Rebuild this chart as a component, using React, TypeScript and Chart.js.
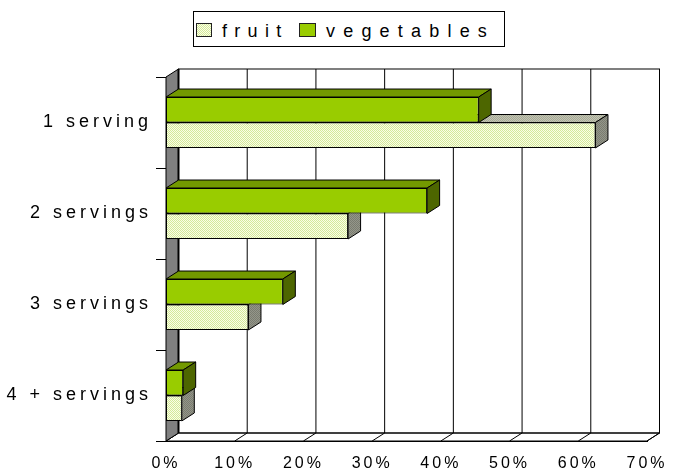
import React, { useEffect, useRef } from 'react';
import { Chart, registerables } from 'chart.js';

Chart.register(...registerables);

const categories = ['1 serving', '2 servings', '3 servings', '4 + servings'];
const fruitValues = [62.5, 26.5, 12, 2.3];
const vegetableValues = [45.5, 38, 17, 2.5];
const xTickValues = [0, 10, 20, 30, 40, 50, 60, 70];
const seriesNames = ['fruit', 'vegetables'];

const FONT = '"Liberation Sans", Arial, Helvetica, sans-serif';
const DX = 12.5;
const DY = 8;

function makePattern(a: string, b: string): CanvasPattern | string {
  const c = document.createElement('canvas');
  c.width = 2;
  c.height = 2;
  const g = c.getContext('2d');
  if (!g) return a;
  g.fillStyle = a;
  g.fillRect(0, 0, 2, 2);
  g.fillStyle = b;
  g.fillRect(0, 0, 1, 1);
  g.fillRect(1, 1, 1, 1);
  const p = g.createPattern(c, 'repeat');
  return p || a;
}

export default function App() {
  const ref = useRef<HTMLCanvasElement | null>(null);

  useEffect(() => {
    const canvas = ref.current;
    if (!canvas) return;
    const fruitFront = makePattern('#fbfde6', '#d3e99a');
    const fruitTop = makePattern('#c4c6b4', '#a6a996');
    const fruitSide = makePattern('#94968a', '#7a7c70');
    const faces: Record<number, { top: any; side: any }> = {
      0: { top: '#739900', side: '#4d6600' },
      1: { top: fruitTop, side: fruitSide },
    };

    const depthPlugin = {
      id: 'depth3d',
      beforeDraw(chart: any) {
        // spacing for the category labels (drawn before the bars)
        chart.ctx.letterSpacing = '4px';
      },
      beforeDatasetsDraw(chart: any) {
        const ctx = chart.ctx as CanvasRenderingContext2D;
        const xs = chart.scales.x;
        const { left: L, right: R, top: T, bottom: B } = chart.chartArea;
        ctx.save();
        ctx.lineWidth = 1;
        ctx.strokeStyle = '#000';
        ctx.fillStyle = '#fff';
        ctx.fillRect(L + DX, T - DY, R - L, B - T);
        ctx.strokeRect(L + DX, T - DY, R - L, B - T);
        xs.ticks.forEach((t: any) => {
          const px = xs.getPixelForValue(t.value);
          ctx.beginPath();
          ctx.moveTo(px + DX, T - DY);
          ctx.lineTo(px + DX, B - DY);
          ctx.moveTo(px, B);
          ctx.lineTo(px + DX, B - DY);
          ctx.stroke();
        });
        ctx.beginPath();
        ctx.moveTo(L, B);
        ctx.lineTo(L + DX, B - DY);
        ctx.lineTo(R + DX, B - DY);
        ctx.lineTo(R, B);
        ctx.closePath();
        ctx.stroke();
        ctx.beginPath();
        ctx.moveTo(L, T);
        ctx.lineTo(L + DX, T - DY);
        ctx.lineTo(L + DX, B - DY);
        ctx.lineTo(L, B);
        ctx.closePath();
        ctx.fillStyle = '#808080';
        ctx.fill();
        ctx.stroke();
        ctx.lineWidth = 2;
        ctx.beginPath();
        ctx.moveTo(L + DX, T - DY);
        ctx.lineTo(L + DX, B - DY);
        ctx.stroke();
        ctx.restore();
      },
      afterDatasetDraw(chart: any, args: any) {
        const ctx = chart.ctx as CanvasRenderingContext2D;
        const f = faces[args.index];
        ctx.save();
        ctx.lineWidth = 1;
        ctx.strokeStyle = '#000';
        args.meta.data.forEach((bar: any) => {
          const { x, y, base, height } = bar.getProps(['x', 'y', 'base', 'height'], true);
          const top = y - height / 2;
          const bottom = y + height / 2;
          ctx.beginPath();
          ctx.moveTo(base, top);
          ctx.lineTo(x, top);
          ctx.lineTo(x + DX, top - DY);
          ctx.lineTo(base + DX, top - DY);
          ctx.closePath();
          ctx.fillStyle = f.top;
          ctx.fill();
          ctx.stroke();
          ctx.beginPath();
          ctx.moveTo(x, top);
          ctx.lineTo(x, bottom);
          ctx.lineTo(x + DX, bottom - DY);
          ctx.lineTo(x + DX, top - DY);
          ctx.closePath();
          ctx.fillStyle = f.side;
          ctx.fill();
          ctx.stroke();
        });
        ctx.restore();
      },
      afterDatasetsDraw(chart: any) {
        // spacing for the value axis labels (drawn after the bars, z = 1)
        chart.ctx.letterSpacing = '3px';
      },
      afterDraw(chart: any) {
        chart.ctx.letterSpacing = '0px';
      },
    };

    const chart = new Chart(canvas, {
      type: 'bar',
      data: {
        labels: categories,
        datasets: [
          {
            label: seriesNames[1],
            data: vegetableValues,
            backgroundColor: '#99cc00',
            borderColor: '#000',
            borderWidth: 1,
            borderSkipped: false,
            categoryPercentage: 0.56,
            barPercentage: 1,
          },
          {
            label: seriesNames[0],
            data: fruitValues,
            backgroundColor: fruitFront as any,
            borderColor: '#000',
            borderWidth: 1,
            borderSkipped: false,
            categoryPercentage: 0.56,
            barPercentage: 1,
          },
        ],
      },
      options: {
        indexAxis: 'y',
        animation: false,
        responsive: false,
        devicePixelRatio: 1,
        layout: { padding: { top: 77, right: 30, left: 0, bottom: 0 } },
        plugins: {
          legend: { display: false },
          tooltip: { enabled: false },
        },
        scales: {
          x: {
            type: 'linear',
            min: xTickValues[0],
            max: xTickValues[xTickValues.length - 1],
            afterBuildTicks: (scale: any) => {
              scale.ticks = xTickValues.map((v) => ({ value: v }));
            },
            ticks: {
              callback: (v: any) => v + '%',
              color: '#000',
              font: { family: FONT, size: 16 },
              padding: 13,
              maxRotation: 0,
              autoSkip: false,
              z: 1,
            },
            grid: { display: false, drawTicks: false },
            border: { display: true, color: '#000', width: 1 },
            afterFit: (scale: any) => {
              scale.height = 32;
            },
          },
          y: {
            type: 'category',
            ticks: {
              color: '#000',
              font: { family: FONT, size: 18 },
              padding: 4,
            },
            grid: {
              display: true,
              drawOnChartArea: false,
              drawTicks: true,
              tickLength: 10,
              color: '#000',
              offset: true,
            },
            border: { display: true, color: '#000', width: 1 },
            afterFit: (scale: any) => {
              scale.width = 166;
            },
          },
        },
      },
      plugins: [depthPlugin],
    } as any);

    return () => chart.destroy();
  }, []);

  const textStyle = (left: number, spacing: number): React.CSSProperties => ({
    position: 'absolute',
    left,
    top: 22,
    fontFamily: FONT,
    fontSize: 18,
    lineHeight: '18px',
    letterSpacing: spacing + 'px',
    color: '#000',
    whiteSpace: 'nowrap',
  });

  return (
    <div style={{ position: 'absolute', left: 0, top: 0, width: 677, height: 473, background: '#fff' }}>
      <canvas ref={ref} width={677} height={473} style={{ display: 'block', width: 677, height: 473 }} />
      <div
        style={{
          position: 'absolute',
          left: 193,
          top: 11,
          width: 312,
          height: 36,
          border: '1px solid #000',
          boxSizing: 'border-box',
          background: '#fff',
        }}
      />
      <div
        style={{
          position: 'absolute',
          left: 196,
          top: 23,
          width: 16,
          height: 14,
          boxSizing: 'border-box',
          border: '1px solid #222',
          backgroundImage: 'repeating-conic-gradient(#d3e99a 0 25%, #fbfde6 0 50%)',
          backgroundSize: '2px 2px',
        }}
      />
      <div style={textStyle(222, 7.3)}>{seriesNames[0]}</div>
      <div
        style={{
          position: 'absolute',
          left: 299,
          top: 23,
          width: 17,
          height: 14,
          boxSizing: 'border-box',
          border: '1px solid #222',
          background: '#99cc00',
        }}
      />
      <div style={textStyle(326, 8.2)}>{seriesNames[1]}</div>
    </div>
  );
}
